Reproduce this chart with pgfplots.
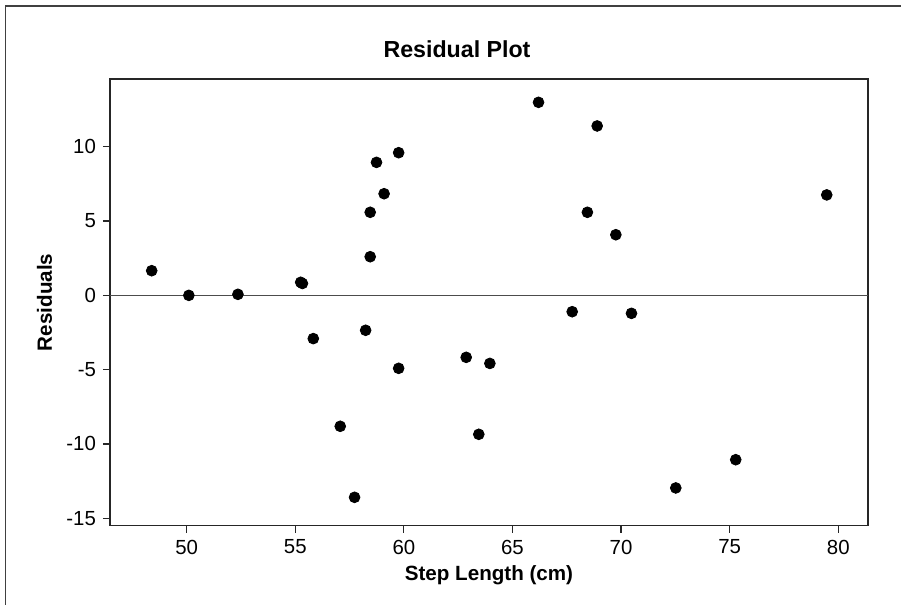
\documentclass[border=0pt]{standalone}
\usepackage{fontspec}
\setmainfont{Liberation Sans}
\usepackage{pgfplots}
\pgfplotsset{compat=1.18}
\begin{document}
\begin{tikzpicture}
\path[use as bounding box] (0,0) rectangle (450.5pt,302.5pt);
\draw[line width=0.7pt, color=black!75] (2.85pt,0) -- (2.85pt,299.5pt) -- (450.5pt,299.5pt);
\begin{axis}[
  at={(55pt,39.65pt)}, anchor=south west,
  scale only axis, width=379pt, height=223.35pt,
  xmin=46.47, xmax=81.37, ymin=-15.5, ymax=14.56,
  xtick={50,55,...,80}, ytick={-15,-10,...,10},
  tick align=outside, tick pos=left, major tick length=3.5pt,
  axis line style={line width=0.65pt, black!85},
  major tick style={line width=0.6pt, black!85},
  /pgf/number format/assume math mode=true,
  ticklabel style={font=\fontsize{10.2}{12}\selectfont},
  xlabel={Step Length (cm)}, ylabel={Residuals},
  label style={font=\bfseries\fontsize{10.3}{12}\selectfont},
  xlabel style={at={(axis description cs:0.5,-0.1236)}, anchor=base},
  ylabel style={at={(axis description cs:-0.0865,0.5)}, anchor=center},
]
\addplot[black!70, line width=0.6pt, forget plot] coordinates {(46.47,0) (81.37,0)};
\addplot[only marks, mark=*, mark size=2.7pt, black] coordinates {
(48.39,1.66)
(50.1,0.0)
(52.36,0.07)
(55.25,0.88)
(55.33,0.80)
(55.83,-2.91)
(57.07,-8.81)
(57.73,-13.59)
(58.24,-2.35)
(58.45,2.6)
(58.45,5.59)
(58.74,8.95)
(59.09,6.84)
(59.76,9.6)
(59.76,-4.91)
(62.87,-4.17)
(63.45,-9.35)
(63.96,-4.58)
(66.2,12.99)
(67.75,-1.10)
(68.45,5.59)
(68.9,11.4)
(69.76,4.08)
(70.48,-1.21)
(72.52,-12.96)
(75.28,-11.06)
(79.47,6.76)
};
\end{axis}
\node[anchor=base, font=\bfseries\fontsize{11.6}{14}\selectfont] at (228.5pt,273.8pt) {Residual Plot};
\end{tikzpicture}
\end{document}
